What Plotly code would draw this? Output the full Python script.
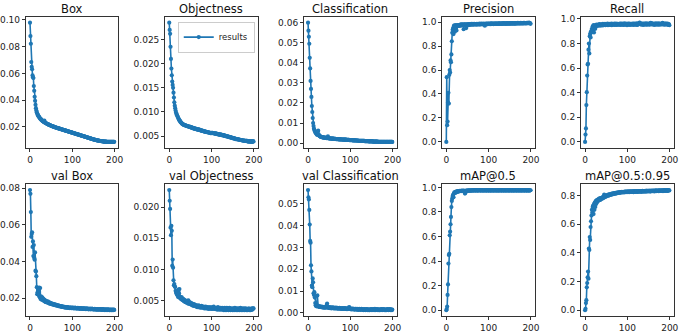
import plotly.graph_objects as go

titles = ["Box", "Objectness", "Classification", "Precision", "Recall",
          "val Box", "val Objectness", "val Classification", "mAP@0.5", "mAP@0.5:0.95"]

box = [.0980,.0880,.0822,.0685,.0650,.0632,.0585,.0572,.0565,.0505,
       .0470,.0425,.0395,.0365,.0340,.0322,.0310,.0301,.0292,.0286,
       .0280,.0276,.0271,.0266,.0262,.0259,.0256,.0251,.0249,.0246,
       .0243,.0240,.0238,.0236,.0246,.0233,.0231,.0229,.0227,.0225,
       .0223,.0221,.0220,.0218,.0217,.0215,.0214,.0212,.0211,.0210,
       .0208,.0207,.0206,.0204,.0203,.0202,.0201,.0200,.0198,.0197,
       .0196,.0195,.0194,.0193,.0192,.0191,.0190,.0189,.0188,.0187,
       .0186,.0185,.0184,.0182,.0182,.0181,.0180,.0179,.0178,.0177,
       .0176,.0175,.0174,.0173,.0172,.0171,.0170,.0169,.0168,.0167,
       .0166,.0165,.0164,.0163,.0162,.0161,.0160,.0159,.0158,.0157,
       .0156,.0155,.0154,.0153,.0152,.0151,.0150,.0149,.0148,.0147,
       .0146,.0145,.0144,.0143,.0142,.0141,.0140,.0139,.0138,.0137,
       .0136,.0135,.0134,.0133,.0132,.0131,.0130,.0129,.0128,.0127,
       .0126,.0125,.0124,.0123,.0122,.0121,.0120,.0119,.0118,.0117,
       .0116,.0115,.0114,.0113,.0112,.0111,.0110,.0109,.0108,.0107,
       .0106,.0105,.0104,.0103,.0103,.0102,.0101,.0100,.0099,.0099,
       .0098,.0097,.0097,.0096,.0095,.0095,.0094,.0094,.0093,.0093,
       .0092,.0092,.0091,.0091,.0090,.0090,.0090,.0089,.0089,.0089,
       .0089,.0088,.0088,.0088,.0088,.0088,.0088,.0087,.0088,.0088,
       .0088,.0088,.0087,.0087,.0088,.0088,.0088,.0088,.0087,.0088]

objectness = [.0285,.0270,.0262,.0235,.0210,.0190,.0176,.0163,.0156,.0150,
              .0140,.0130,.0120,.0113,.0108,.0103,.0099,.0096,.0094,.0092,
              .0090,.0088,.0086,.0084,.0083,.0082,.0080,.0079,.0078,.0077,
              .0076,.0075,.0075,.0074,.0074,.0073,.0073,.0073,.0072,.0072,
              .0072,.0071,.0071,.0071,.0070,.0070,.0070,.0070,.0069,.0069,
              .0069,.0068,.0068,.0068,.0067,.0067,.0067,.0066,.0066,.0066,
              .0066,.0065,.0065,.0065,.0065,.0064,.0064,.0064,.0064,.0063,
              .0064,.0063,.0063,.0062,.0062,.0062,.0062,.0061,.0061,.0061,
              .0061,.0060,.0060,.0060,.0060,.0059,.0059,.0059,.0059,.0058,
              .0058,.0058,.0058,.0058,.0057,.0057,.0057,.0057,.0056,.0056,
              .0057,.0057,.0057,.0056,.0056,.0056,.0056,.0056,.0055,.0055,
              .0055,.0055,.0055,.0054,.0054,.0054,.0054,.0054,.0053,.0053,
              .0053,.0053,.0053,.0053,.0052,.0052,.0052,.0052,.0052,.0051,
              .0051,.0051,.0051,.0050,.0050,.0050,.0050,.0049,.0049,.0049,
              .0049,.0048,.0048,.0048,.0048,.0047,.0047,.0047,.0047,.0046,
              .0046,.0046,.0046,.0045,.0045,.0045,.0045,.0044,.0044,.0044,
              .0044,.0044,.0043,.0043,.0043,.0043,.0043,.0042,.0042,.0042,
              .0042,.0042,.0041,.0041,.0041,.0041,.0041,.0041,.0040,.0040,
              .0040,.0040,.0040,.0040,.0040,.0039,.0039,.0039,.0039,.0039,
              .0039,.0039,.0039,.0038,.0039,.0039,.0038,.0039,.0039,.0039]

classification = [.0600,.0560,.0530,.0495,.0425,.0372,.0310,.0270,.0230,.0185,
                  .0155,.0125,.0100,.0085,.0072,.0065,.0060,.0056,.0052,.0049,
                  .0046,.0043,.0041,.0058,.0062,.0044,.0039,.0036,.0034,.0033,
                  .0032,.0031,.0030,.0030,.0029,.0029,.0028,.0028,.0027,.0027,
                  .0027,.0026,.0026,.0026,.0025,.0025,.0025,.0034,.0025,.0024,
                  .0024,.0024,.0023,.0023,.0023,.0023,.0022,.0022,.0022,.0022,
                  .0022,.0021,.0021,.0021,.0021,.0021,.0020,.0020,.0020,.0020,
                  .0020,.0020,.0019,.0019,.0019,.0019,.0019,.0019,.0018,.0018,
                  .0018,.0018,.0018,.0018,.0017,.0017,.0017,.0017,.0017,.0017,
                  .0017,.0016,.0016,.0016,.0016,.0016,.0016,.0016,.0015,.0015,
                  .0015,.0015,.0015,.0015,.0015,.0014,.0014,.0014,.0014,.0014,
                  .0014,.0014,.0013,.0013,.0013,.0013,.0013,.0013,.0013,.0012,
                  .0012,.0012,.0012,.0012,.0012,.0012,.0011,.0011,.0011,.0011,
                  .0011,.0011,.0011,.0011,.0010,.0010,.0010,.0010,.0010,.0010,
                  .0010,.0010,.0010,.0009,.0009,.0009,.0009,.0009,.0009,.0009,
                  .0009,.0009,.0009,.0008,.0008,.0008,.0008,.0008,.0008,.0008,
                  .0008,.0008,.0008,.0008,.0008,.0007,.0007,.0007,.0007,.0007,
                  .0007,.0007,.0007,.0007,.0007,.0007,.0007,.0007,.0006,.0006,
                  .0006,.0006,.0006,.0006,.0006,.0006,.0006,.0006,.0006,.0006,
                  .0006,.0006,.0006,.0006,.0006,.0006,.0006,.0006,.0006,.0006]

precision = [0.000,0.540,0.140,0.170,0.330,0.410,0.320,0.560,0.600,0.580,
             0.680,0.665,0.730,0.840,0.910,0.935,0.950,0.900,0.970,0.960,
             0.920,0.975,0.960,0.950,0.930,0.975,0.965,0.970,0.975,0.968,
             0.972,0.970,0.975,0.978,0.970,0.980,0.975,0.978,0.972,0.981,
             0.975,0.940,0.980,0.977,0.982,0.975,0.978,0.950,0.980,0.976,
             0.982,0.978,0.975,0.984,0.980,0.977,0.983,0.979,0.981,0.985,
             0.978,0.982,0.980,0.986,0.979,0.983,0.981,0.985,0.980,0.984,
             0.982,0.978,0.985,0.983,0.980,0.986,0.982,0.984,0.979,0.987,
             0.983,0.981,0.986,0.982,0.988,0.984,0.980,0.986,0.983,0.987,
             0.984,0.970,0.986,0.983,0.988,0.985,0.981,0.987,0.984,0.988,
             0.985,0.983,0.988,0.984,0.987,0.982,0.989,0.985,0.987,0.984,
             0.988,0.985,0.983,0.989,0.986,0.984,0.988,0.985,0.990,0.986,
             0.984,0.988,0.986,0.990,0.985,0.987,0.989,0.984,0.988,0.986,
             0.990,0.987,0.985,0.989,0.987,0.991,0.986,0.988,0.990,0.987,
             0.985,0.989,0.987,0.991,0.988,0.986,0.990,0.988,0.987,0.991,
             0.989,0.986,0.990,0.988,0.992,0.987,0.989,0.991,0.988,0.990,
             0.987,0.991,0.989,0.986,0.990,0.992,0.988,0.990,0.989,0.993,
             0.988,0.990,0.992,0.989,0.991,0.988,0.993,0.990,0.989,0.992,
             0.990,0.988,0.993,0.991,0.989,0.994,0.990,0.992,0.991,0.989,
             0.993,0.991,0.994,0.990,0.992,0.995,0.991,0.993,0.990,0.985]

recall = [0.000,0.060,0.110,0.300,0.405,0.540,0.630,0.635,0.750,0.800,
          0.720,0.860,0.880,0.850,0.900,0.890,0.920,0.910,0.940,0.930,
          0.950,0.890,0.930,0.945,0.920,0.950,0.940,0.955,0.945,0.950,
          0.952,0.945,0.955,0.948,0.958,0.950,0.953,0.946,0.957,0.951,
          0.955,0.948,0.960,0.952,0.949,0.958,0.953,0.961,0.950,0.956,
          0.952,0.959,0.954,0.962,0.950,0.957,0.953,0.960,0.955,0.951,
          0.958,0.954,0.962,0.950,0.957,0.961,0.953,0.959,0.955,0.962,
          0.951,0.958,0.955,0.963,0.952,0.957,0.960,0.954,0.961,0.956,
          0.953,0.960,0.955,0.962,0.951,0.958,0.963,0.954,0.959,0.956,
          0.962,0.952,0.958,0.955,0.964,0.953,0.959,0.957,0.961,0.950,
          0.958,0.962,0.954,0.960,0.956,0.963,0.952,0.959,0.955,0.961,
          0.954,0.960,0.957,0.963,0.951,0.958,0.962,0.955,0.960,0.953,
          0.961,0.956,0.964,0.952,0.959,0.955,0.962,0.958,0.968,0.970,
          0.965,0.957,0.961,0.954,0.962,0.958,0.956,0.963,0.952,0.960,
          0.957,0.962,0.955,0.959,0.964,0.953,0.960,0.956,0.962,0.958,
          0.955,0.963,0.958,0.954,0.961,0.968,0.966,0.957,0.962,0.955,
          0.960,0.956,0.963,0.958,0.952,0.961,0.957,0.964,0.955,0.959,
          0.962,0.954,0.960,0.957,0.965,0.953,0.961,0.958,0.956,0.963,
          0.957,0.961,0.955,0.968,0.959,0.963,0.956,0.960,0.954,0.962,
          0.958,0.963,0.955,0.960,0.957,0.962,0.952,0.959,0.956,0.950]

val_box = [.0790,.0770,.0670,.0535,.0550,.0560,.0480,.0510,.0430,.0490,
           .0420,.0410,.0450,.0350,.0345,.0320,.0260,.0222,.0232,.0250,
           .0240,.0215,.0258,.0205,.0255,.0195,.0210,.0200,.0192,.0205,
           .0190,.0198,.0188,.0185,.0192,.0183,.0180,.0187,.0178,.0182,
           .0180,.0176,.0183,.0175,.0178,.0172,.0176,.0170,.0174,.0169,
           .0172,.0168,.0171,.0166,.0169,.0165,.0168,.0163,.0166,.0162,
           .0165,.0161,.0163,.0160,.0162,.0158,.0161,.0157,.0159,.0156,
           .0158,.0155,.0157,.0154,.0156,.0153,.0155,.0152,.0154,.0151,
           .0153,.0150,.0152,.0149,.0151,.0148,.0150,.0149,.0151,.0148,
           .0150,.0147,.0149,.0146,.0148,.0147,.0149,.0146,.0148,.0145,
           .0147,.0149,.0145,.0147,.0144,.0146,.0148,.0145,.0147,.0144,
           .0146,.0143,.0145,.0147,.0144,.0146,.0143,.0145,.0142,.0144,
           .0146,.0143,.0145,.0142,.0144,.0141,.0143,.0145,.0142,.0144,
           .0141,.0143,.0140,.0142,.0144,.0141,.0143,.0140,.0142,.0139,
           .0141,.0143,.0140,.0142,.0139,.0141,.0143,.0140,.0142,.0139,
           .0141,.0138,.0140,.0142,.0139,.0141,.0138,.0140,.0137,.0139,
           .0141,.0138,.0140,.0137,.0139,.0141,.0138,.0140,.0137,.0139,
           .0136,.0138,.0140,.0137,.0139,.0136,.0138,.0135,.0137,.0139,
           .0136,.0138,.0135,.0137,.0139,.0136,.0138,.0135,.0137,.0134,
           .0136,.0138,.0135,.0137,.0134,.0136,.0138,.0135,.0137,.0136]

val_objectness = [.0227,.0210,.0197,.0167,.0155,.0170,.0162,.0106,.0116,.0103,
                  .0083,.0075,.0077,.0073,.0072,.0066,.0064,.0062,.0060,.0061,
                  .0058,.0056,.0068,.0062,.0069,.0057,.0054,.0055,.0053,.0056,
                  .0052,.0054,.0051,.0053,.0050,.0052,.0049,.0051,.0048,.0050,
                  .0049,.0047,.0050,.0048,.0046,.0051,.0047,.0045,.0048,.0046,
                  .0045,.0047,.0044,.0046,.0043,.0045,.0044,.0042,.0045,.0043,
                  .0044,.0042,.0043,.0041,.0043,.0042,.0040,.0042,.0041,.0043,
                  .0040,.0042,.0041,.0039,.0041,.0040,.0042,.0039,.0041,.0040,
                  .0039,.0041,.0040,.0038,.0040,.0039,.0041,.0038,.0040,.0039,
                  .0038,.0040,.0039,.0037,.0039,.0038,.0040,.0038,.0039,.0037,
                  .0039,.0038,.0040,.0037,.0039,.0041,.0038,.0037,.0039,.0038,
                  .0037,.0039,.0038,.0036,.0038,.0040,.0037,.0039,.0036,.0038,
                  .0037,.0039,.0036,.0038,.0037,.0039,.0036,.0038,.0037,.0035,
                  .0037,.0039,.0036,.0038,.0035,.0037,.0039,.0036,.0038,.0037,
                  .0035,.0037,.0039,.0036,.0038,.0035,.0037,.0036,.0038,.0035,
                  .0037,.0036,.0038,.0035,.0037,.0039,.0036,.0038,.0035,.0037,
                  .0036,.0038,.0035,.0037,.0036,.0038,.0035,.0037,.0039,.0036,
                  .0035,.0037,.0036,.0038,.0035,.0037,.0036,.0038,.0035,.0037,
                  .0036,.0038,.0035,.0037,.0036,.0035,.0037,.0036,.0038,.0035,
                  .0037,.0036,.0035,.0037,.0036,.0038,.0036,.0037,.0038,.0038]

val_classification = [.0563,.0530,.0520,.0472,.0405,.0330,.0322,.0218,.0190,.0125,
                      .0118,.0158,.0140,.0090,.0082,.0095,.0070,.0045,.0035,.0032,
                      .0030,.0032,.0080,.0033,.0029,.0031,.0028,.0030,.0027,.0029,
                      .0028,.0026,.0029,.0027,.0025,.0028,.0026,.0024,.0027,.0025,
                      .0026,.0024,.0027,.0025,.0035,.0043,.0026,.0024,.0025,.0023,
                      .0026,.0024,.0022,.0025,.0023,.0021,.0024,.0022,.0025,.0023,
                      .0021,.0024,.0022,.0020,.0023,.0021,.0024,.0022,.0020,.0023,
                      .0021,.0019,.0022,.0020,.0023,.0021,.0019,.0022,.0020,.0018,
                      .0021,.0019,.0022,.0020,.0018,.0021,.0019,.0022,.0020,.0018,
                      .0021,.0019,.0017,.0020,.0018,.0021,.0019,.0027,.0024,.0018,
                      .0020,.0018,.0016,.0019,.0017,.0020,.0018,.0016,.0019,.0017,
                      .0015,.0018,.0016,.0019,.0017,.0015,.0018,.0016,.0014,.0017,
                      .0015,.0018,.0016,.0014,.0017,.0015,.0018,.0016,.0014,.0017,
                      .0015,.0013,.0016,.0014,.0017,.0015,.0013,.0016,.0014,.0017,
                      .0015,.0013,.0016,.0014,.0012,.0015,.0013,.0016,.0014,.0017,
                      .0015,.0013,.0016,.0014,.0017,.0015,.0013,.0016,.0018,.0015,
                      .0013,.0016,.0014,.0017,.0015,.0013,.0016,.0014,.0012,.0015,
                      .0013,.0016,.0014,.0017,.0015,.0013,.0016,.0014,.0017,.0015,
                      .0013,.0016,.0014,.0012,.0015,.0013,.0016,.0014,.0017,.0015,
                      .0013,.0016,.0014,.0017,.0015,.0013,.0016,.0014,.0012,.0015]

map50 = [0.000,0.010,0.030,0.125,0.210,0.380,0.450,0.460,0.610,0.640,
         0.700,0.760,0.840,0.890,0.910,0.930,0.940,0.920,0.950,0.960,
         0.955,0.962,0.958,0.965,0.960,0.968,0.964,0.970,0.966,0.970,
         0.968,0.972,0.969,0.971,0.973,0.970,0.972,0.974,0.971,0.973,
         0.972,0.974,0.971,0.973,0.950,0.955,0.972,0.974,0.973,0.975,
         0.972,0.974,0.976,0.973,0.975,0.974,0.976,0.973,0.975,0.977,
         0.974,0.976,0.975,0.977,0.974,0.976,0.978,0.975,0.977,0.974,
         0.976,0.978,0.975,0.977,0.974,0.976,0.975,0.977,0.978,0.975,
         0.977,0.974,0.976,0.978,0.975,0.977,0.976,0.974,0.977,0.975,
         0.976,0.978,0.975,0.977,0.974,0.976,0.978,0.975,0.977,0.976,
         0.974,0.977,0.975,0.978,0.976,0.974,0.977,0.975,0.976,0.978,
         0.975,0.977,0.974,0.976,0.978,0.975,0.977,0.976,0.974,0.977,
         0.975,0.978,0.976,0.974,0.977,0.975,0.976,0.978,0.975,0.977,
         0.974,0.976,0.978,0.975,0.977,0.976,0.974,0.977,0.975,0.978,
         0.976,0.974,0.977,0.975,0.976,0.978,0.975,0.977,0.974,0.976,
         0.978,0.975,0.977,0.976,0.974,0.977,0.975,0.978,0.976,0.974,
         0.977,0.975,0.976,0.978,0.975,0.977,0.974,0.976,0.978,0.975,
         0.977,0.976,0.974,0.977,0.975,0.978,0.976,0.974,0.977,0.975,
         0.976,0.978,0.975,0.977,0.974,0.976,0.978,0.975,0.977,0.976,
         0.974,0.977,0.975,0.978,0.976,0.974,0.977,0.975,0.976,0.977]

map50_95 = [0.000,0.010,0.050,0.070,0.160,0.190,0.230,0.270,0.220,0.430,
            0.420,0.510,0.490,0.580,0.620,0.660,0.700,0.680,0.720,0.730,
            0.670,0.740,0.700,0.750,0.720,0.760,0.740,0.765,0.750,0.770,
            0.760,0.772,0.765,0.778,0.770,0.780,0.768,0.782,0.775,0.784,
            0.778,0.786,0.780,0.790,0.783,0.805,0.788,0.795,0.790,0.798,
            0.793,0.800,0.796,0.803,0.798,0.805,0.800,0.807,0.802,0.808,
            0.804,0.810,0.806,0.812,0.808,0.813,0.809,0.815,0.811,0.816,
            0.812,0.817,0.813,0.818,0.815,0.819,0.816,0.820,0.817,0.821,
            0.818,0.822,0.819,0.823,0.820,0.824,0.821,0.825,0.822,0.823,
            0.824,0.821,0.825,0.822,0.826,0.823,0.827,0.824,0.826,0.823,
            0.825,0.828,0.824,0.827,0.823,0.826,0.829,0.825,0.827,0.824,
            0.828,0.825,0.829,0.826,0.823,0.827,0.830,0.826,0.828,0.825,
            0.829,0.826,0.830,0.827,0.824,0.828,0.831,0.827,0.829,0.826,
            0.830,0.827,0.831,0.828,0.825,0.829,0.832,0.828,0.830,0.827,
            0.831,0.828,0.832,0.829,0.826,0.830,0.833,0.829,0.831,0.828,
            0.832,0.829,0.833,0.830,0.827,0.831,0.834,0.830,0.832,0.829,
            0.833,0.830,0.834,0.831,0.828,0.832,0.835,0.831,0.833,0.830,
            0.834,0.831,0.835,0.832,0.829,0.833,0.836,0.832,0.834,0.831,
            0.835,0.832,0.836,0.833,0.830,0.834,0.837,0.833,0.835,0.832,
            0.836,0.833,0.837,0.834,0.831,0.835,0.837,0.834,0.836,0.835]

series = [box, objectness, classification, precision, recall,
          val_box, val_objectness, val_classification, map50, map50_95]
x_ticks = [0, 100, 200]
y_dticks = [0.02, 0.005, 0.01, 0.2, 0.2, 0.02, 0.005, 0.01, 0.2, 0.2]
y_formats = [".2f", ".3f", ".2f", ".1f", ".1f", ".2f", ".3f", ".2f", ".1f", ".1f"]

W, H = 685, 333
col_left = [25, 165.5, 305.5, 445, 585]
col_w = 93.5
rows_px = [(14, 148), (185, 320)]
title_y = [6, 177]
COLOR = "#1f77b4"
FONT = "DejaVu Sans"

fig = go.Figure()
annotations = []
layout_axes = {}
for i, (title, vals) in enumerate(zip(titles, series)):
    r, c = divmod(i, 5)
    sfx = "" if i == 0 else str(i + 1)
    epochs = list(range(len(vals)))
    fig.add_trace(go.Scatter(
        x=epochs, y=vals, mode="lines+markers", name="results",
        line=dict(color=COLOR, width=1.6),
        marker=dict(color=COLOR, size=4.2),
        showlegend=(i == 1),
        xaxis="x" + sfx, yaxis="y" + sfx,
    ))
    x0 = col_left[c] / W
    x1 = (col_left[c] + col_w) / W
    top, bot = rows_px[r]
    y0 = 1 - bot / H
    y1 = 1 - top / H
    n = len(vals)
    ymin, ymax = min(vals), max(vals)
    pad = 0.05 * (ymax - ymin)
    common = dict(showline=True, mirror=True, linecolor="#333", linewidth=0.8,
                  ticks="outside", ticklen=3, tickwidth=0.8, tickcolor="#333",
                  showgrid=False, zeroline=False,
                  tickfont=dict(family=FONT, size=9, color="#222"))
    layout_axes["xaxis" + sfx] = dict(
        domain=[x0, x1], anchor="y" + sfx,
        range=[-0.05 * (n - 1), (n - 1) * 1.05],
        tickmode="array", tickvals=x_ticks, ticktext=[str(t) for t in x_ticks],
        **common)
    layout_axes["yaxis" + sfx] = dict(
        domain=[y0, y1], anchor="x" + sfx,
        range=[ymin - pad, ymax + pad],
        tick0=0, dtick=y_dticks[i], tickformat=y_formats[i],
        **common)
    annotations.append(dict(
        text=title, xref="paper", yref="paper",
        x=(x0 + x1) / 2, y=1 - title_y[r] / H,
        xanchor="center", yanchor="middle", showarrow=False,
        font=dict(family=FONT, size=11.5, color="#111")))

fig.update_layout(
    width=W, height=H,
    margin=dict(l=0, r=0, t=0, b=0),
    paper_bgcolor="white", plot_bgcolor="white",
    annotations=annotations,
    legend=dict(x=256 / W, y=1 - 19 / H, xanchor="right", yanchor="top",
                bordercolor="#cccccc", borderwidth=1, bgcolor="white",
                font=dict(family=FONT, size=8.5, color="#222"),
                itemwidth=30, tracegroupgap=0),
    **layout_axes,
)

fig.write_html(
    "out.html",
    config={"displayModeBar": False},
    post_script="document.body.style.margin='0';document.body.style.overflow='hidden';",
)
